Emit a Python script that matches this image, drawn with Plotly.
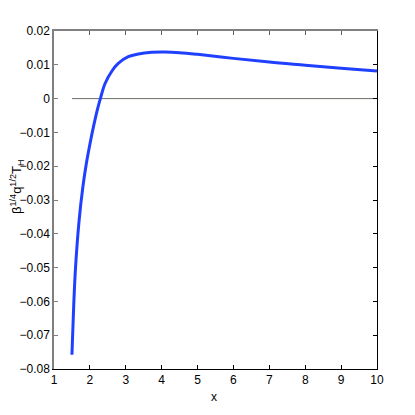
import plotly.graph_objects as go

# Curve data
x_vals = [1.5, 1.55, 1.6, 1.7, 1.8, 1.9, 2.0, 2.1, 2.2, 2.3, 2.42, 2.61, 2.79,
          3.07, 3.35, 3.72, 4.09, 4.5, 5.0, 6.0, 7.0, 8.0, 9.0, 10.0]
y_vals = [-0.0758, -0.061, -0.050, -0.036, -0.0265, -0.0193, -0.0135, -0.0083,
          -0.0036, 0.0003, 0.0044, 0.0081, 0.0104, 0.0124, 0.0132, 0.0137,
          0.0138, 0.0136, 0.0131, 0.0119, 0.0108, 0.0099, 0.0090, 0.0082]

# Reference horizontal line (y = 0)
zero_x = [1.5, 10.0]
zero_y = [0.0, 0.0]

x_ticks = [1, 2, 3, 4, 5, 6, 7, 8, 9, 10]
x_ticktext = ["1", "2", "3", "4", "5", "6", "7", "8", "9", "10"]
y_ticks = [0.02, 0.01, 0.0, -0.01, -0.02, -0.03, -0.04, -0.05, -0.06, -0.07, -0.08]
y_ticktext = ["0.02", "0.01", "0", "\u22120.01", "\u22120.02", "\u22120.03", "\u22120.04",
              "\u22120.05", "\u22120.06", "\u22120.07", "\u22120.08"]

FONT = "Liberation Sans Narrow, Liberation Sans, Arial, sans-serif"

fig = go.Figure()
fig.add_trace(go.Scatter(x=zero_x, y=zero_y, mode="lines",
                         line=dict(color="#6a6e66", width=1), showlegend=False))
fig.add_trace(go.Scatter(x=x_vals, y=y_vals, mode="lines", line_shape="spline",
                         line=dict(color="#2040ff", width=3), showlegend=False))
# invisible trace for mirror axes
fig.add_trace(go.Scatter(x=zero_x, y=zero_y, mode="lines", xaxis="x2", yaxis="y2",
                         line=dict(width=0), hoverinfo="skip", showlegend=False,
                         opacity=0))

fig.update_layout(
    width=415, height=415,
    margin=dict(l=46, r=46, t=23, b=54, autoexpand=False),
    paper_bgcolor="white", plot_bgcolor="white",
    font=dict(family=FONT, size=12, color="black"),
    xaxis=dict(range=[1, 10], tickvals=x_ticks, ticktext=x_ticktext,
               showgrid=False, zeroline=False, showline=True, linecolor="black",
               linewidth=1, ticks="inside", ticklen=4, tickcolor="black",
               tickfont=dict(family=FONT, size=12)),
    yaxis=dict(range=[-0.08, 0.02], tickvals=y_ticks, ticktext=y_ticktext,
               showgrid=False, zeroline=False, showline=True, linecolor="#808080",
               linewidth=1.5, ticks="inside", ticklen=4, tickcolor="#808080",
               tickfont=dict(family=FONT, size=12)),
    xaxis2=dict(range=[1, 10], tickvals=x_ticks, overlaying="x", side="top",
                showticklabels=False, showgrid=False, zeroline=False, showline=True,
                linecolor="#808080", linewidth=1.5, ticks="inside", ticklen=4,
                tickcolor="#606060", anchor="y"),
    yaxis2=dict(range=[-0.08, 0.02], tickvals=y_ticks, overlaying="y", side="right",
                showticklabels=False, showgrid=False, zeroline=False, showline=True,
                linecolor="black", linewidth=1, ticks="inside", ticklen=4,
                tickcolor="black", anchor="x"),
    annotations=[
        dict(text="x", xref="paper", yref="paper", x=(206 - 46) / 323, y=-28 / 338,
             xanchor="center", yanchor="middle", showarrow=False,
             font=dict(family=FONT, size=12)),
        dict(text="\u03b2<sup>1/4</sup>q<sup>1/2</sup>T<sub>H</sub>", xref="paper",
             yref="paper", x=(9 - 46) / 323, y=(361 - 179) / 338, textangle=-90,
             xanchor="center", yanchor="middle", showarrow=False,
             font=dict(family=FONT, size=13)),
    ],
)

fig.write_html("out.html")
